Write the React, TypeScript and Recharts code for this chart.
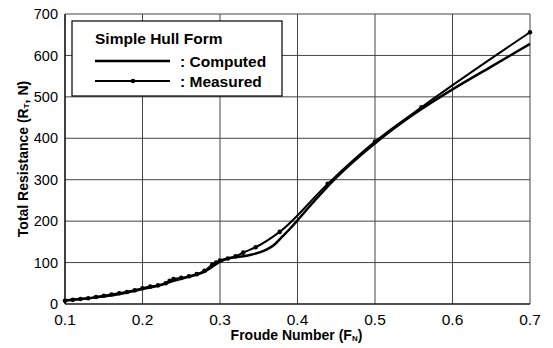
import React from "react";
import { LineChart, Line, XAxis, YAxis, CartesianGrid, Label } from "recharts";

const computedFn = [0.1, 0.12, 0.14, 0.16, 0.18, 0.2, 0.22, 0.24, 0.26, 0.28, 0.29, 0.3, 0.31, 0.32, 0.33, 0.34, 0.35, 0.36, 0.37, 0.38, 0.39, 0.4, 0.42, 0.45, 0.5, 0.55, 0.6, 0.65, 0.7];
const computedRt = [9, 12, 16, 21, 28, 36, 44, 56, 66, 78, 90, 102, 110, 113, 115, 119, 124, 131, 143, 162, 181, 202, 245, 305, 388, 458, 518, 573, 628];

const measuredFn = [0.1, 0.11, 0.12, 0.13, 0.14, 0.15, 0.16, 0.17, 0.18, 0.19, 0.2, 0.21, 0.22, 0.23, 0.235, 0.24, 0.25, 0.26, 0.27, 0.28, 0.29, 0.295, 0.3, 0.31, 0.32, 0.33, 0.346, 0.377, 0.439, 0.5, 0.56, 0.7];
const measuredRt = [8, 10, 12, 14, 17, 20, 23, 26, 29, 33, 38, 42, 45, 50, 56, 60, 63, 67, 72, 80, 95, 100, 105, 110, 115, 124, 137, 174, 290, 392, 475, 656];

const xTicks = [0.1, 0.2, 0.3, 0.4, 0.5, 0.6, 0.7];
const yTicks = [0, 100, 200, 300, 400, 500, 600, 700];

const computed = computedFn.map((f, i) => ({ f, r: computedRt[i] }));
const measured = measuredFn.map((f, i) => ({ f, r: measuredRt[i] }));

const FONT = "'Liberation Sans', Arial, sans-serif";

const YLabel = (props: any) => {
  const vb = props.viewBox || {};
  const cy = vb.y + vb.height / 2;
  const cx = 23;
  return (
    <text
      x={cx}
      y={cy}
      transform={`rotate(-90, ${cx}, ${cy})`}
      textAnchor="middle"
      dominantBaseline="central"
      fontFamily={FONT}
      fontWeight="bold"
      fontSize={14}
      fill="#000"
    >
      Total Resistance (R<tspan fontSize={8} dy={3}>T</tspan>
      <tspan dy={-3}>, N)</tspan>
    </text>
  );
};

const XLabel = (props: any) => {
  const vb = props.viewBox || {};
  const cx = vb.x + vb.width / 2 - 1;
  return (
    <text
      x={cx}
      y={335}
      textAnchor="middle"
      dominantBaseline="central"
      fontFamily={FONT}
      fontWeight="bold"
      fontSize={14}
      fill="#000"
    >
      Froude Number (F<tspan fontSize={8} dy={3}>N</tspan>
      <tspan dy={-3}>)</tspan>
    </text>
  );
};

const Legend = () => (
  <g fontFamily={FONT} fontWeight="bold" fill="#000">
    <rect x={72} y={21} width={210} height={75} fill="#fff" stroke="#000" strokeWidth={1.2} />
    <text x={95} y={44} fontSize={15.5}>Simple Hull Form</text>
    <line x1={95} x2={170} y1={61} y2={61} stroke="#000" strokeWidth={2.5} />
    <text x={180} y={67} fontSize={15.5}>:  Computed</text>
    <line x1={95} x2={170} y1={81} y2={81} stroke="#000" strokeWidth={2} />
    <circle cx={133} cy={81} r={2.3} fill="#000" />
    <text x={180} y={87} fontSize={15.5}>:  Measured</text>
  </g>
);

export default function App() {
  return (
    <div style={{ position: "absolute", left: 0, top: 0, background: "#fff" }}>
      <LineChart width={553} height={348} margin={{ top: 14, right: 23, bottom: 0, left: 0 }}>
        <CartesianGrid stroke="#444" strokeWidth={1} vertical horizontal />
        <XAxis
          dataKey="f"
          type="number"
          domain={[0.1, 0.7]}
          ticks={xTicks}
          allowDuplicatedCategory={false}
          height={44}
          tickLine={false}
          axisLine={{ stroke: "#000", strokeWidth: 1.2 }}
          tick={{ fill: "#000", fontSize: 15.5, fontFamily: FONT }}
          tickFormatter={(v: number) => v.toFixed(1)}
          tickMargin={4}
        >
          <Label content={<XLabel />} />
        </XAxis>
        <YAxis
          dataKey="r"
          type="number"
          domain={[0, 700]}
          ticks={yTicks}
          width={65}
          tickLine={false}
          axisLine={{ stroke: "#000", strokeWidth: 1.2 }}
          tick={{ fill: "#000", fontSize: 14.5, fontFamily: FONT }}
          tickMargin={1}
        >
          <Label content={<YLabel />} />
        </YAxis>
        <Line
          data={computed}
          dataKey="r"
          type="monotone"
          stroke="#000"
          strokeWidth={2.5}
          dot={false}
          isAnimationActive={false}
        />
        <Line
          data={measured}
          dataKey="r"
          type="monotone"
          stroke="#000"
          strokeWidth={2}
          dot={{ r: 2.3, fill: "#000", stroke: "#000", strokeWidth: 0 }}
          isAnimationActive={false}
        />
        <Legend />
      </LineChart>
    </div>
  );
}
